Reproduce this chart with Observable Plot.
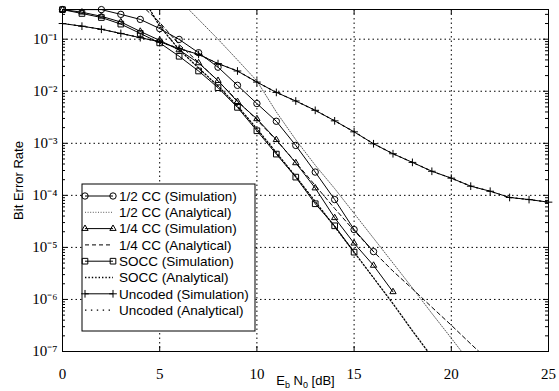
<!DOCTYPE html>
<html><head><meta charset="utf-8">
<script src="https://cdn.jsdelivr.net/npm/d3@7"></script>
<script src="https://cdn.jsdelivr.net/npm/@observablehq/plot@0.6"></script>
<style>
body{margin:0;background:#fff;}
#chart svg{display:block;background:#fff}
g[aria-label="y-axis label"] text, g[aria-label="x-axis label"] text{font-family:"Liberation Sans",Arial,sans-serif;font-size:13px;}
</style></head><body><div id="chart"></div>
<script>
// ---------- data (Eb/N0 in dB, BER) ----------
const halfSimX = [0,2,3,4,5,6,7,8,9,10,11,12,13,14,15,16];
const halfSimY = [0.37,0.37,0.30,0.24,0.16,0.099,0.055,0.029,0.013,5.8e-3,2.65e-3,9.1e-4,2.8e-4,8.3e-5,2.2e-5,8.3e-6];

const halfAnaX = [6.5,7,8,9,10,11,12,13,14,15,16,17,18,19,20,21];
const halfAnaY = [0.37,0.24,0.1,0.04,0.0158,4e-3,1.17e-3,3.8e-4,1.35e-4,4.5e-5,1.5e-5,5e-6,1.66e-6,5.4e-7,1.8e-7,5.9e-8];

const quarterSimX = [0,1,2,3,4,5,6,7,8,9,10,11,12,13,14,15,16,17];
const quarterSimY = [0.37,0.33,0.275,0.214,0.141,0.095,0.062,0.035,0.016,6.3e-3,2.95e-3,1.17e-3,4.2e-4,1.38e-4,3.7e-5,1.2e-5,4.5e-6,1.4e-6];

const quarterAnaX = [4.3,5,6,7,8,9,10,11,12,13,14,15,16,17,18,19,20,21,22];
const quarterAnaY = [0.37,0.21,0.079,0.036,0.0158,6.6e-3,2.8e-3,1.15e-3,4.3e-4,1.55e-4,5.6e-5,2.1e-5,8.3e-6,3.5e-6,1.6e-6,7.1e-7,3.2e-7,1.4e-7,6.3e-8];

const soccSimX = [0,1,2,3,4,5,6,7,8,9,10,11,12,13,14,15];
const soccSimY = [0.37,0.312,0.261,0.195,0.129,0.085,0.047,0.0245,0.0117,4.9e-3,1.74e-3,6.2e-4,2.24e-4,6.9e-5,2.6e-5,8.1e-6];

const soccAnaX = [4.5,5,6,7,8,9,10,11,12,13,14,15,16,17,18,19];
const soccAnaY = [0.37,0.178,0.063,0.028,0.0126,5.2e-3,1.9e-3,6.6e-4,2.3e-4,7.6e-5,2.5e-5,8.1e-6,2.6e-6,8.3e-7,2.5e-7,7.9e-8];

const uncSimX = [0,1,2,3,4,5,6,7,8,9,10,11,12,13,14,15,16,17,18,19,20,21,22,23,24,25];
const uncSimY = [0.2,0.178,0.155,0.129,0.107,0.089,0.066,0.051,0.034,0.0245,0.015,9.5e-3,6.5e-3,4.3e-3,2.7e-3,1.66e-3,9.8e-4,6.3e-4,4.3e-4,2.9e-4,2.14e-4,1.5e-4,1.2e-4,9.1e-5,8.3e-5,7.4e-5];

const uncAnaX = uncSimX;
const uncAnaY = uncSimY;

const legendLabels = ["1/2 CC (Simulation)","1/2 CC (Analytical)","1/4 CC (Simulation)","1/4 CC (Analytical)",
  "SOCC (Simulation)","SOCC (Analytical)","Uncoded (Simulation)","Uncoded (Analytical)"];

const xTicks = [0,5,10,15,20,25];
const xGrid = [5,10,15,20];
const yExponents = [-7,-6,-5,-4,-3,-2,-1];
const xLabel = "Eb N0 [dB]";
const yLabel = "Bit Error Rate";

// ---------- layout / styles ----------
const W = 559, H = 391, mL = 62, mR = 11, mT = 9, mB = 40;
const fW = W - mL - mR, fH = H - mT - mB;
const yTop = 0.372, yBottom = 1e-7;

const styles = [
  {x: halfSimX, y: halfSimY, dash: null, sw: 1, color: "#000", symbol: "circle", r: 3.2},
  {x: halfAnaX, y: halfAnaY, dash: "1,1.6", sw: 0.9, color: "#444", symbol: null},
  {x: quarterSimX, y: quarterSimY, dash: null, sw: 1, color: "#000", symbol: "triangle2", r: 3},
  {x: quarterAnaX, y: quarterAnaY, dash: "4,3", sw: 1, color: "#000", symbol: null},
  {x: soccSimX, y: soccSimY, dash: null, sw: 1, color: "#000", symbol: "square2", r: 3.6},
  {x: soccAnaX, y: soccAnaY, dash: "1.4,2", sw: 1.3, color: "#000", symbol: null},
  {x: uncSimX, y: uncSimY, dash: null, sw: 1, color: "#000", symbol: "plus", r: 2.6},
  {x: uncAnaX, y: uncAnaY, dash: "1.4,4.5", sw: 1.2, color: "#000", symbol: null}
];

const sup = s => String(s).replace(/-/g,"⁻").replace(/\d/g, d => "⁰¹²³⁴⁵⁶⁷⁸⁹"[d]);
const yMajor = yExponents.map(e => Math.pow(10, e));
const yMinor = [];
for (const e of yExponents) for (let k = 2; k <= 9; k++) { const v = k * Math.pow(10, e); if (v <= yTop) yMinor.push(v); }

const marks = [
  Plot.ruleX(xGrid, {x: d => d, stroke: "#000", strokeWidth: 1, strokeDasharray: "1.5,3"}),
  Plot.ruleY(yMajor.filter(v => v > yBottom), {y: d => d, stroke: "#000", strokeWidth: 1, strokeDasharray: "1.5,3"}),
  // inward ticks
  Plot.tickX(xTicks, {x: d => d, insetTop: fH - 5, stroke: "#000"}),
  Plot.tickX(xTicks, {x: d => d, insetBottom: fH - 5, stroke: "#000"}),
  Plot.tickY(yMajor, {y: d => d, insetRight: fW - 5, stroke: "#000"}),
  Plot.tickY(yMajor, {y: d => d, insetLeft: fW - 5, stroke: "#000"}),
  Plot.tickY(yMinor, {y: d => d, insetRight: fW - 3, stroke: "#000"}),
  Plot.tickY(yMinor, {y: d => d, insetLeft: fW - 3, stroke: "#000"}),
];
for (const s of styles) {
  const data = s.x.map((x, i) => ({x, y: s.y[i]}));
  marks.push(Plot.line(data, {x: "x", y: "y", stroke: s.color, strokeWidth: s.sw, strokeDasharray: s.dash, clip: true}));
  if (s.symbol) marks.push(Plot.dot(data, {x: "x", y: "y", symbol: () => s.symbol, r: s.r, stroke: "#000", strokeWidth: 1, fill: "none"}));
}
marks.push(Plot.frame({stroke: "#000", strokeWidth: 1}));
marks.push(Plot.axisX({ticks: xTicks, tickSize: 0, tickPadding: 17, tickFormat: d => String(d),
  fontFamily: "'Liberation Serif', serif", fontSize: 15,
  label: xLabel, labelAnchor: "center", labelArrow: "none", labelOffset: 33}));
marks.push(Plot.axisY({ticks: yMajor, tickSize: 0, tickPadding: 5, tickFormat: d => "10" + sup(Math.round(Math.log10(d))),
  fontFamily: "'Liberation Serif', serif", fontSize: 15,
  label: yLabel, labelAnchor: "center", labelArrow: "none", labelOffset: 49}));

const plot = Plot.plot({
  width: W, height: H, marginLeft: mL, marginRight: mR, marginTop: mT, marginBottom: mB,
  style: {background: "#fff", color: "#000"},
  x: {domain: [0, 25]},
  y: {type: "log", domain: [yBottom, yTop]},
  marks
});
document.getElementById("chart").appendChild(plot);

// subscripts in x label
const xl = plot.querySelector('g[aria-label="x-axis label"] text');
if (xl) xl.innerHTML = 'E<tspan dy="3" font-size="9">b</tspan><tspan dy="-3"> N</tspan><tspan dy="3" font-size="9">0</tspan><tspan dy="-3"> [dB]</tspan>';

// legend
const LEG = {x: 82, y: 184, w: 173, h: 147, y0: 196, dy: 16.3, lx1: 85, lx2: 113, tx: 119};
const svg = d3.select(plot);
const lg = svg.append("g").attr("aria-label", "legend");
lg.append("rect").attr("x", LEG.x).attr("y", LEG.y).attr("width", LEG.w).attr("height", LEG.h)
  .attr("fill", "#fff").attr("stroke", "#000");
const symMap = {circle: d3.symbolCircle, triangle2: d3.symbolTriangle2, square2: d3.symbolSquare2, plus: d3.symbolPlus};
styles.forEach((s, i) => {
  const cy = LEG.y0 + i * LEG.dy;
  lg.append("line").attr("x1", LEG.lx1).attr("x2", LEG.lx2).attr("y1", cy).attr("y2", cy)
    .attr("stroke", s.color).attr("stroke-width", s.sw).attr("stroke-dasharray", s.dash);
  if (s.symbol) for (const px of [LEG.lx1, LEG.lx2]) {
    lg.append("path").attr("d", d3.symbol(symMap[s.symbol], Math.PI * s.r * s.r)())
      .attr("transform", `translate(${px},${cy})`).attr("fill", "none").attr("stroke", "#000");
  }
  lg.append("text").attr("x", LEG.tx).attr("y", cy).attr("dy", "0.35em").attr("text-anchor", "start")
    .attr("font-family", "'Liberation Sans', Arial, sans-serif").attr("font-size", 13.5)
    .attr("fill", "#000").text(legendLabels[i]);
});
</script></body></html>
